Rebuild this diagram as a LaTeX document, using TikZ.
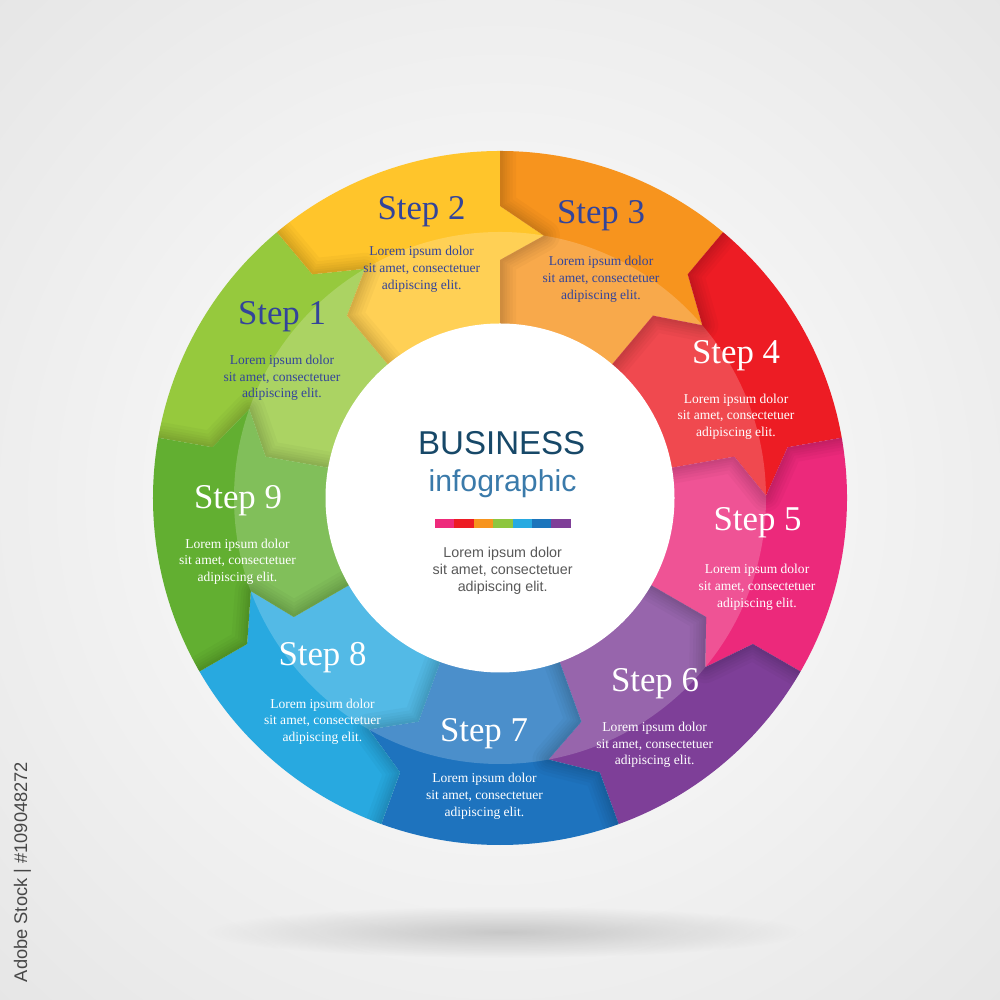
\documentclass[tikz,border=0pt]{standalone}
\usepackage{fontspec}
\setmainfont{Liberation Serif}
\setsansfont{Liberation Sans}
\usetikzlibrary{fadings}
\tikzfading[name=softspot, inner color=transparent!0, outer color=transparent!100]

\definecolor{d1}{HTML}{96C93D}
\definecolor{d2}{HTML}{FFC52B}
\definecolor{d3}{HTML}{F7941E}
\definecolor{d4}{HTML}{ED1C24}
\definecolor{d5}{HTML}{EC297B}
\definecolor{d6}{HTML}{7E3F98}
\definecolor{d7}{HTML}{1E73BE}
\definecolor{d8}{HTML}{28A9E0}
\definecolor{d9}{HTML}{62AF31}
\definecolor{navytxt}{HTML}{33449A}
\definecolor{bizblue}{HTML}{174868}
\definecolor{infoblue}{HTML}{3A7AAA}
\definecolor{bar1}{HTML}{EE2A7B}
\definecolor{bar2}{HTML}{ED1C24}
\definecolor{bar3}{HTML}{F7941E}
\definecolor{bar4}{HTML}{8DC63F}
\definecolor{bar5}{HTML}{27AAE1}
\definecolor{bar6}{HTML}{1C75BC}
\definecolor{bar7}{HTML}{7F3F98}

% segment whose counter-clockwise edge is at angle #1
\newcommand\segshape[1]{(#1:3.47) arc[start angle=#1, end angle=#1-40, radius=3.47]
  -- (#1-40:2.92) -- (#1-49.5:2.66) -- (#1-40:2.38) -- (#1-40:1.74)
  arc[start angle=#1-40, end angle=#1, radius=1.74]
  -- (#1:2.38) -- (#1-9.5:2.66) -- (#1:2.92) -- cycle}

\tikzset{
  steplbl/.style={font=\fontsize{9.9}{11}\selectfont, anchor=base, inner sep=0pt},
  loremtxt/.style={font=\fontsize{3.85}{4.72}\selectfont, align=center, inner sep=0pt},
  foldshadow/.style={black, opacity=0.028, line join=round}
}

\begin{document}
\begin{tikzpicture}
\useasboundingbox (-5,-5.02) rectangle (5,4.98);
% background
\begin{scope}
  \clip (-5,-5.02) rectangle (5,4.98);
  \shade[inner color=white, outer color=black!10] (0,0) circle[radius=7.3];
\end{scope}
% ground shadow
\fill[black, opacity=0.17, path fading=softspot] (0.05,-4.34) ellipse[x radius=3.0, y radius=0.26];

% ring segments
\foreach \A/\col in {170/d1,130/d2,90/d3,50/d4,10/d5,-30/d6,-70/d7,-110/d8,-150/d9}{
  \fill[\col] \segshape{\A};
  \begin{scope}
    \clip \segshape{\A};
    \fill[white, opacity=0.2] (0,0) circle[radius=2.66];
    \foreach \w in {3.2mm,2.5mm,1.9mm,1.4mm,0.9mm,0.5mm}
      \draw[foldshadow, line width=\w] (\A:3.6) -- (\A:2.92) -- (\A-9.5:2.66) -- (\A:2.38) -- (\A:1.6);
  \end{scope}
}
% inner disc
\fill[white] (0,0) circle[radius=1.745];

% step labels
\foreach \n/\x/\y/\col in {1/-2.18/1.73/navytxt, 2/-0.785/2.78/navytxt, 3/1.01/2.74/navytxt,
    4/2.36/1.34/white, 5/2.575/-0.33/white, 6/1.55/-1.94/white,
    7/-0.16/-2.43/white, 8/-1.775/-1.68/white, 9/-2.62/-0.11/white}
  \node[steplbl, text=\col] (step\n) at (\x,\y) {Step \n};

% step texts
\foreach \n/\x/\y/\col in {1/-2.18/1.20/navytxt, 2/-0.783/2.287/navytxt, 3/1.01/2.187/navytxt,
    4/2.36/0.813/white, 5/2.57/-0.893/white, 6/1.547/-2.47/white,
    7/-0.155/-2.983/white, 8/-1.775/-2.237/white, 9/-2.625/-0.637/white}
  \node[loremtxt, text=\col] (lorem\n) at (\x,\y) {Lorem ipsum dolor\\sit amet, consectetuer\\adipiscing elit.};

% centre
\node[font=\sffamily\fontsize{9.4}{11}\selectfont, text=bizblue, anchor=base, inner sep=0pt] (biz) at (0.017,0.43) {BUSINESS};
\node[font=\sffamily\fontsize{8.6}{10}\selectfont, text=infoblue, anchor=base, inner sep=0pt] (info) at (0.025,0.063) {infographic};
\foreach \i/\col in {0/bar1,1/bar2,2/bar3,3/bar4,4/bar5,5/bar6,6/bar7}
  \fill[\col] (-0.65+\i*0.194,-0.303) rectangle ++(0.196,0.096);
\node[font=\sffamily\fontsize{4.07}{4.74}\selectfont, align=center, text=black!65, inner sep=0pt] (clorem) at (0.027,-0.727)
  {Lorem ipsum dolor\\sit amet, consectetuer\\adipiscing elit.};

% side label
\node[rotate=90, font=\sffamily\fontsize{5.2}{6}\selectfont, text=black!72, inner sep=0pt] (stock) at (-4.775,-3.74) {Adobe Stock | \#109048272};
\end{tikzpicture}
\end{document}
